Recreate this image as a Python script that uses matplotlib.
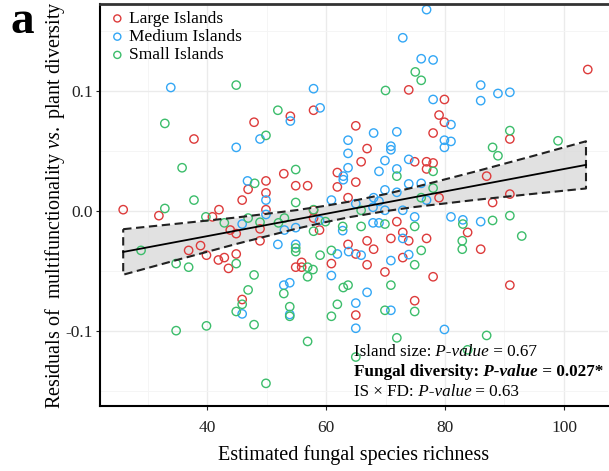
import numpy as np
import matplotlib.pyplot as plt

plt.rcParams['font.family'] = 'Liberation Serif'
plt.rcParams['mathtext.fontset'] = 'custom'
plt.rcParams['mathtext.rm'] = 'Liberation Serif'
plt.rcParams['mathtext.it'] = 'Liberation Serif:italic'

# large islands (red)
large_x = [25.9, 31.9, 37.8, 40.9, 42.0, 43.9, 44.9, 45.9, 46.9, 49.9, 49.9, 49.9, 48.9, 48.9,
           52.9, 54.9, 47.9, 54.0, 57.9, 56.9, 61.9, 61.9, 63.7, 73.9, 79.9, 79.0, 79.9, 65.0,
           78.0, 66.9, 65.9, 74.9, 76.9, 78.0, 76.9, 65.0, 79.0, 104.0, 90.9, 87.0, 90.9, 88.0,
           38.9, 36.9, 39.9, 41.9, 42.9, 43.6, 57.9, 57.9, 58.9, 44.9, 60.9, 54.9, 55.9, 55.9,
           45.9, 63.7, 71.9, 72.9, 70.9, 73.9, 76.9, 66.9, 68.0, 65.0, 72.9, 66.9, 69.9, 78.0,
           74.9, 65.0, 83.8, 86.0, 90.9]
large_y = [0.001, -0.004, 0.060, -0.005, 0.001, -0.016, -0.019, 0.009, 0.018, 0.025, 0.015, 0.001,
           -0.015, -0.025, 0.031, 0.021, 0.074, 0.079, 0.084, 0.021, 0.032, 0.020, 0.011, 0.101,
           0.093, 0.080, 0.074, 0.071, 0.065, 0.052, 0.041, 0.041, 0.041, 0.040, 0.035, 0.024,
           0.011, 0.118, 0.060, 0.029, 0.014, 0.007, -0.029, -0.033, -0.037, -0.041, -0.039,
           -0.048, 0.0005, -0.006, -0.016, -0.036, -0.044, -0.047, -0.043, -0.047, -0.074,
           -0.028, -0.009, -0.018, -0.023, -0.025, -0.023, -0.025, -0.032, -0.036, -0.039,
           -0.045, -0.051, -0.055, -0.075, -0.087, -0.018, -0.032, -0.062]

# medium islands (blue)
medium_x = [33.9, 44.9, 48.9, 54.0, 46.8, 49.9, 49.9, 45.9, 53.0, 54.9, 57.9, 59.0, 63.7, 63.7,
            63.7, 62.9, 62.9, 60.9, 76.9, 72.9, 76.0, 78.0, 78.0, 81.0, 68.0, 71.9, 79.9, 81.0,
            79.9, 70.9, 70.9, 69.9, 73.9, 68.9, 71.9, 73.9, 76.0, 69.9, 71.9, 68.0, 76.9, 68.9,
            86.0, 86.0, 88.9, 90.9, 58.9, 51.9, 54.9, 61.9, 60.9, 52.9, 53.9, 45.9, 53.9, 62.8,
            67.9, 69.9, 72.9, 74.9, 81.0, 67.9, 68.9, 72.9, 63.8, 65.9, 73.9, 70.9, 66.9, 65.0,
            70.9, 65.0, 79.9, 83.0, 86.0, 65.0]
medium_y = [0.103, 0.053, 0.060, 0.075, 0.025, 0.009, -0.003, -0.011, -0.016, -0.014, 0.102,
            0.086, 0.059, 0.048, 0.036, 0.029, 0.026, 0.009, 0.168, 0.1445, 0.127, 0.126, 0.093,
            0.072, 0.065, 0.066, 0.059, 0.058, 0.053, 0.054, 0.051, 0.042, 0.043, 0.033, 0.035,
            0.0225, 0.023, 0.0175, 0.0155, 0.011, 0.009, 0.008, 0.105, 0.092, 0.098, 0.099,
            -0.008, -0.028, -0.028, -0.036, -0.054, -0.062, -0.060, -0.086, -0.0865, -0.0165,
            0.003, 0.0005, 0.0005, -0.005, -0.005, -0.010, -0.010, -0.023, -0.034, -0.037,
            -0.0365, -0.0415, -0.068, -0.077, -0.083, -0.098, -0.099, -0.0075, -0.009, 0.006]

# small islands (green)
small_x = [32.9, 35.8, 37.8, 32.9, 39.8, 42.9, 46.9, 48.0, 48.9, 52.0, 53.0, 54.9, 54.9, 44.9,
           49.9, 51.9, 75.0, 76.0, 70.0, 78.0, 71.9, 78.0, 76.0, 90.9, 88.0, 88.9, 99.0, 28.9,
           34.8, 36.9, 34.8, 39.9, 57.9, 57.9, 59.9, 54.9, 54.9, 44.9, 47.9, 59.0, 60.9, 56.9,
           56.9, 57.8, 52.9, 46.9, 45.9, 44.9, 47.9, 53.9, 53.9, 60.9, 61.9, 62.9, 63.7, 56.9,
           49.9, 62.8, 65.9, 69.9, 74.9, 65.9, 76.0, 74.9, 70.9, 69.9, 74.9, 71.9, 65.0, 83.0,
           82.9, 82.9, 83.8, 88.0, 90.9, 92.9, 87.0]
small_y = [0.073, 0.036, 0.009, 0.002, -0.005, -0.010, -0.006, 0.023, -0.0095, -0.010, -0.006,
           0.0345, 0.007, 0.105, 0.063, 0.084, 0.116, 0.109, 0.1005, 0.033, 0.029, 0.019, 0.011,
           0.067, 0.053, 0.046, 0.0585, -0.033, -0.044, -0.047, -0.100, -0.096, 0.001, -0.017,
           -0.009, -0.031, -0.034, -0.044, -0.0535, -0.037, -0.033, -0.047, -0.055, -0.049,
           -0.069, -0.066, -0.078, -0.084, -0.095, -0.080, -0.088, -0.088, -0.078, -0.064,
           -0.062, -0.109, -0.144, -0.013, 0.0005, -0.011, -0.013, -0.013, -0.033, -0.045,
           -0.062, -0.083, -0.084, -0.106, -0.122, -0.011, -0.025, -0.032, -0.116, -0.008,
           -0.004, -0.021, -0.104]

# fitted line and its confidence band
fit_x = [25.9, 103.7]
fit_y = [-0.0343, 0.0384]
band_x = [25.9, 35, 45, 55, 60, 64, 70, 75, 85, 95, 103.7]
band_upper = [-0.0153, -0.0107, -0.0055, 0.0006, 0.0043, 0.0078, 0.0140, 0.0199, 0.0327, 0.0461, 0.0581]
band_lower = [-0.0533, -0.0409, -0.0275, -0.0149, -0.0093, -0.0052, -0.0002, 0.0033, 0.0091, 0.0143, 0.0187]

fig = plt.figure(figsize=(6.09, 4.71), dpi=100)
ax = fig.add_axes([100/609, 65/471, 508/609, 402/471])

ax.set_xlim(22.0, 107.4)
ax.set_ylim(-0.1629, 0.1727)
ax.set_xticks([40, 60, 80, 100])
ax.set_yticks([-0.1, 0.0, 0.1])
ax.set_yticklabels(['-0.1', '0.0', '0.1'])
ax.set_xticks([30, 50, 70, 90], minor=True)
ax.set_yticks([-0.15, -0.05, 0.05, 0.15], minor=True)
ax.grid(True, which='major', color='#ebebeb', lw=1.0, zorder=0)
ax.grid(True, which='minor', color='#f4f4f4', lw=0.6, zorder=0)
ax.tick_params(which='minor', length=0)
ax.tick_params(which='major', length=3, width=0.8, labelsize=12.5, colors='#222222')
ax.tick_params(axis='x', which='major', pad=7)
ax.tick_params(axis='y', which='major', pad=2)
ax.set_axisbelow(True)

for s in ['left', 'bottom']:
    ax.spines[s].set_linewidth(1.5)
    ax.spines[s].set_color('black')
ax.spines['top'].set_linewidth(2)
ax.spines['top'].set_color('#333333')
ax.spines['right'].set_visible(False)

ax.fill_between(band_x, band_lower, band_upper, color='#dcdcdc', alpha=0.85, lw=0, zorder=1)
outline_x = band_x + band_x[::-1] + [band_x[0]]
outline_y = band_upper + band_lower[::-1] + [band_upper[0]]
ax.plot(outline_x, outline_y, color='#222222', lw=1.5, ls=(0, (4, 2.2)), zorder=3)

ax.scatter(large_x, large_y, s=36, facecolors='none', edgecolors='#dd3b3b', lw=1.0,
           label='Large Islands', zorder=2)
ax.scatter(medium_x, medium_y, s=36, facecolors='none', edgecolors='#33a7f5', lw=1.0,
           label='Medium Islands', zorder=2)
ax.scatter(small_x, small_y, s=36, facecolors='none', edgecolors='#3cbd6b', lw=1.0,
           label='Small Islands', zorder=2)

ax.plot(fit_x, fit_y, color='black', lw=1.3, zorder=4)

ax.legend(loc='upper left', bbox_to_anchor=(0.017, 0.983), frameon=False, fontsize=12.5,
          handletextpad=0.15, labelspacing=0.12, borderpad=0, borderaxespad=0,
          handlelength=1.0, markerscale=0.85)

ax.set_xlabel('Estimated fungal species richness', fontsize=14.5)
ax.xaxis.set_label_coords(0.5, -0.097)
ax.set_ylabel(r'Residuals of  multifunctionality $\mathit{vs.}$ plant diversity', fontsize=14.5)
ax.yaxis.set_label_coords(-0.065, 0.5)

fig.text(10/609, 1 - 33/471, 'a', fontsize=34, fontweight='bold', va='baseline')


# annotation with mixed styles, pieces chained one after the other
def text_line(x, y, parts, size=12.3):
    t = fig.text(x, y, parts[0][0], fontsize=size, va='center', **parts[0][1])
    for s, kw in parts[1:]:
        t = ax.annotate(s, xy=(1, 0), xycoords=t, va='bottom', ha='left', fontsize=size, **kw)
    return t


n = {}
it = {'style': 'italic'}
b = {'weight': 'bold'}
bi = {'weight': 'bold', 'style': 'italic'}
text_line(354/609, 1 - 351.7/471, [('Island size:', n), (' P-value', it), (' = 0.67', n)])
text_line(354/609, 1 - 371.7/471, [('Fungal diversity:', b), (' P-value', bi), (' = 0.027*', b)])
text_line(354/609, 1 - 392/471, [('IS \u00d7 FD:', n), (' P-value', it), (' = 0.63', n)])

fig.savefig('out.png', dpi=100)
